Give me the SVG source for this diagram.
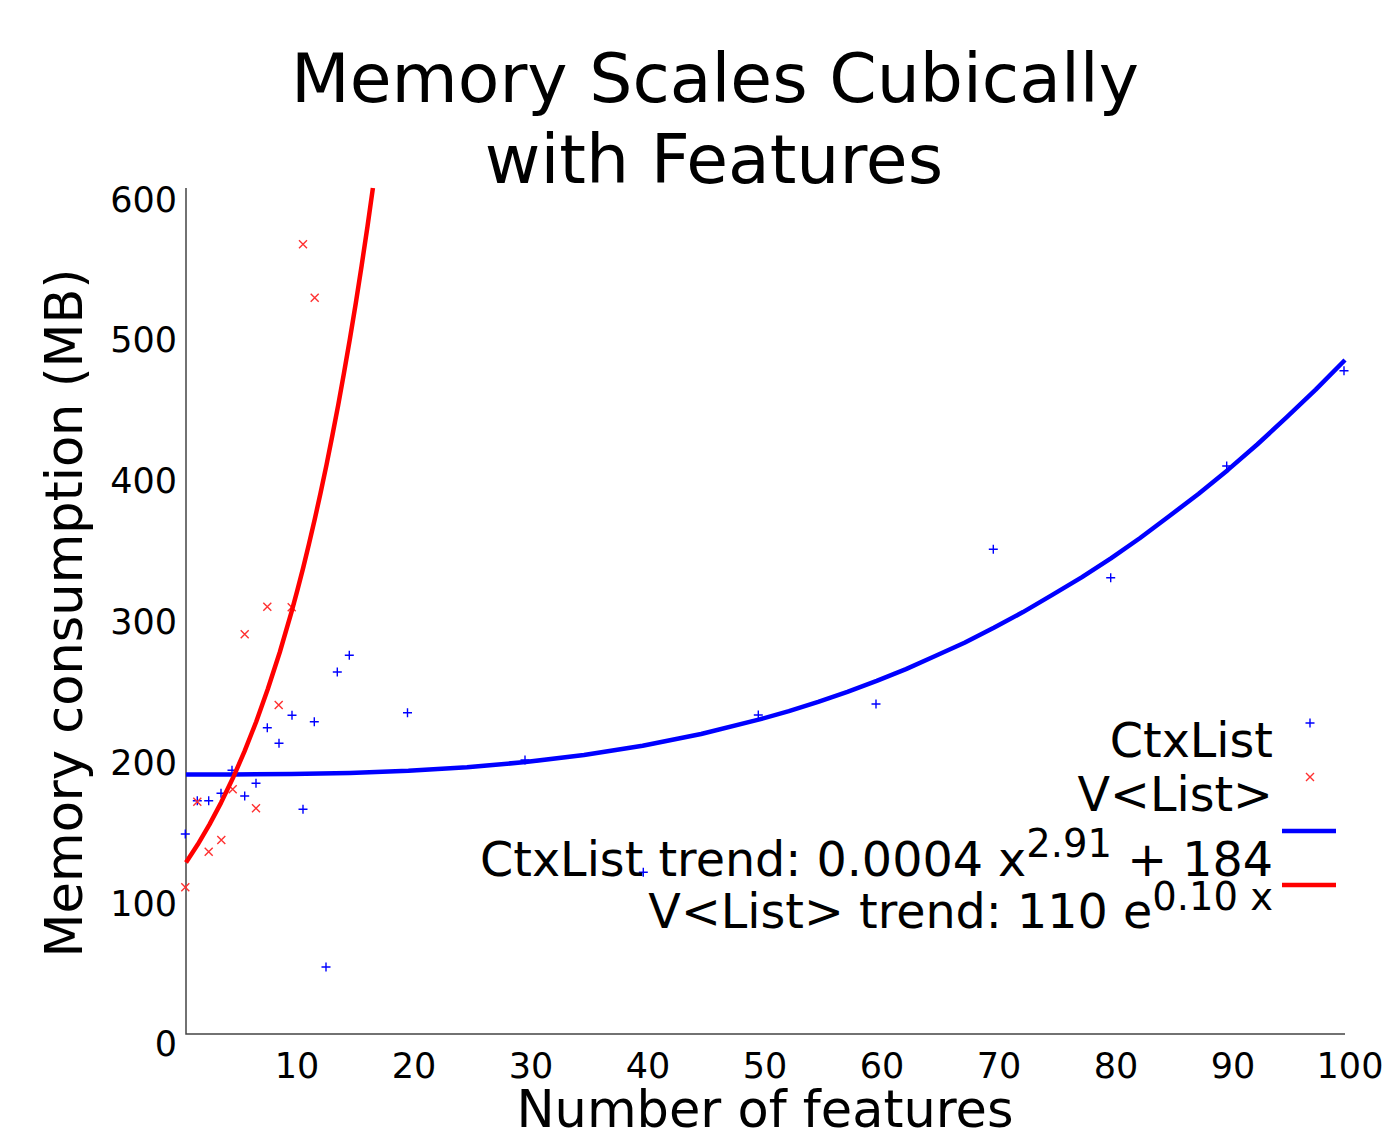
<svg xmlns="http://www.w3.org/2000/svg" width="1382" height="1133" viewBox="0 0 1382 1133">
<style>
text{font-family:"DejaVu Sans","Liberation Sans",sans-serif;fill:#000}
.title{font-size:68px;text-anchor:middle}
.tick{font-size:35px}
.ty{text-anchor:end}
.tx{text-anchor:middle}
.axt{font-size:51px;text-anchor:middle}
.leg{font-size:47.6px;text-anchor:end}
.sup{font-size:38.5px}
.axis{fill:none;stroke:#444;stroke-width:1.5}
.fit{fill:none;stroke-width:4.5;stroke-linejoin:round;stroke-linecap:butt}
.p{stroke:#0000ff;stroke-width:1.4;fill:none}
.x{stroke:#ff3030;stroke-width:1.4;fill:none}
</style>
<defs>
<path id="plus" d="M-4.5,0H4.5M0,-4.5V4.5"/>
<path id="cross" d="M-4,-4L4,4M-4,4L4,-4"/>
</defs>
<rect width="1382" height="1133" fill="#fff"/>
<g id="title">
<text class="title" x="715" y="102">Memory Scales Cubically</text>
<text class="title" x="714" y="183">with Features</text>
</g>
<g id="axes">
<path class="axis" d="M186,188V1034H1345"/>
<text class="tick ty" x="177" y="212">600</text>
<text class="tick ty" x="177" y="352">500</text>
<text class="tick ty" x="177" y="493">400</text>
<text class="tick ty" x="177" y="634">300</text>
<text class="tick ty" x="177" y="775">200</text>
<text class="tick ty" x="177" y="916">100</text>
<text class="tick ty" x="177" y="1056">0</text>
<text class="tick tx" x="297" y="1078">10</text>
<text class="tick tx" x="414" y="1078">20</text>
<text class="tick tx" x="531" y="1078">30</text>
<text class="tick tx" x="648" y="1078">40</text>
<text class="tick tx" x="765" y="1078">50</text>
<text class="tick tx" x="882" y="1078">60</text>
<text class="tick tx" x="999" y="1078">70</text>
<text class="tick tx" x="1116" y="1078">80</text>
<text class="tick tx" x="1233" y="1078">90</text>
<text class="tick tx" x="1350" y="1078">100</text>
<text class="axt" x="765" y="1127">Number of features</text>
<text class="axt" transform="translate(82,613) rotate(-90)">Memory consumption (MB)</text>
</g>
<g id="ctxlist-points">
<use href="#plus" class="p" x="185.3" y="834"/>
<use href="#plus" class="p" x="197.3" y="800.7"/>
<use href="#plus" class="p" x="208.7" y="800.7"/>
<use href="#plus" class="p" x="221" y="793.3"/>
<use href="#plus" class="p" x="232" y="770.3"/>
<use href="#plus" class="p" x="244.7" y="796"/>
<use href="#plus" class="p" x="256" y="783.3"/>
<use href="#plus" class="p" x="267.3" y="727.7"/>
<use href="#plus" class="p" x="279" y="743.3"/>
<use href="#plus" class="p" x="292" y="715.3"/>
<use href="#plus" class="p" x="303" y="809.3"/>
<use href="#plus" class="p" x="314.3" y="721.7"/>
<use href="#plus" class="p" x="326" y="967"/>
<use href="#plus" class="p" x="337.3" y="672"/>
<use href="#plus" class="p" x="349.3" y="655.3"/>
<use href="#plus" class="p" x="407.5" y="712.7"/>
<use href="#plus" class="p" x="525" y="760"/>
<use href="#plus" class="p" x="643.3" y="872.3"/>
<use href="#plus" class="p" x="758.3" y="715"/>
<use href="#plus" class="p" x="876" y="704"/>
<use href="#plus" class="p" x="993.3" y="549.3"/>
<use href="#plus" class="p" x="1110.7" y="577.7"/>
<use href="#plus" class="p" x="1226.7" y="466"/>
<use href="#plus" class="p" x="1344" y="370.7"/>
</g>
<g id="vlist-points">
<use href="#cross" class="x" x="185.3" y="887.3"/>
<use href="#cross" class="x" x="197.3" y="801.7"/>
<use href="#cross" class="x" x="208.7" y="851.7"/>
<use href="#cross" class="x" x="221.3" y="840"/>
<use href="#cross" class="x" x="232.7" y="789.3"/>
<use href="#cross" class="x" x="244.7" y="634.3"/>
<use href="#cross" class="x" x="256" y="808.3"/>
<use href="#cross" class="x" x="267.3" y="606.7"/>
<use href="#cross" class="x" x="278.7" y="705"/>
<use href="#cross" class="x" x="291.7" y="607.3"/>
<use href="#cross" class="x" x="303" y="244.3"/>
<use href="#cross" class="x" x="314.7" y="297.7"/>
</g>
<g id="fits">
<polyline class="fit" stroke="#0000ff" points="186,774.6 232.8,774.4 291.4,774.1 349.9,772.9 408.4,770.8 467,767.2 525.5,762.1 584,755 642.6,745.7 701.1,734 759.6,719.4 788.9,711.1 818.2,701.8 847.4,691.8 876.7,680.9 906,669.1 935.2,656 964.5,642.7 993.8,627.8 1023,612.1 1052.3,594.9 1081.6,577.4 1110.9,558.4 1140.1,538 1169.4,516 1198.7,493.8 1227.9,469.9 1257.2,444.5 1286.5,417.4 1315.7,389.6 1345,360"/>
<polyline class="fit" stroke="#ff0000" points="186,862.6 197.7,844.6 209.4,824.6 221.1,802.6 232.8,778.3 244.5,751.4 256.2,721.7 267.9,688.8 279.7,652.5 291.4,612.4 297.2,590.8 303.1,568.1 308.9,544.2 314.8,519.1 320.6,492.7 326.5,464.9 332.3,435.7 338.2,405.1 344,372.8 349.9,338.9 355.8,303.2 361.6,265.8 367.5,226.4 372.9,188"/>
</g>
<g id="legend">
<text class="leg" x="1273" y="757">CtxList</text>
<use href="#plus" class="p" x="1310" y="723"/>
<text class="leg" x="1273" y="811">V&lt;List&gt;</text>
<use href="#cross" class="x" x="1310" y="777"/>
<text class="leg" x="1273" y="876">CtxList trend: 0.0004 x<tspan class="sup" dy="-19">2.91</tspan><tspan dy="19"> + 184</tspan></text>
<path d="M1282,831H1336" stroke="#0000ff" stroke-width="4.5"/>
<text class="leg" x="1273" y="928">V&lt;List&gt; trend: 110 e<tspan class="sup" dy="-18">0.10 x</tspan></text>
<path d="M1282,885H1336" stroke="#ff0000" stroke-width="4.5"/>
</g>
</svg>
